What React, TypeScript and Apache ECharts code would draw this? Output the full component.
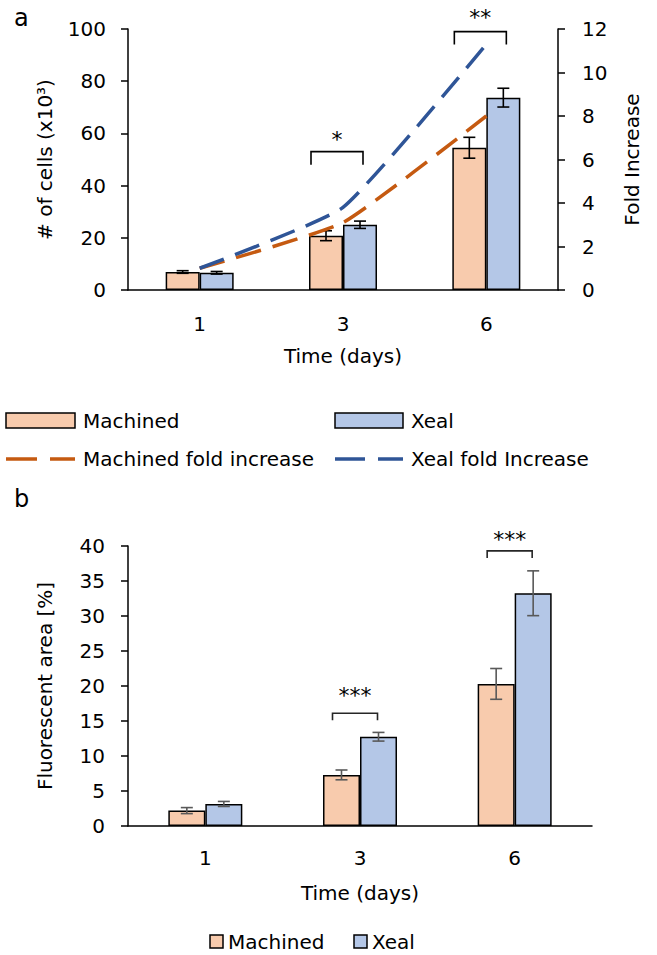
import React, { useEffect, useRef } from "react";
import * as echarts from "echarts";

// ---------- data ----------
const days = ["1", "3", "6"];

// panel a: number of cells (x10^3)
const cellsMachined = [6.9, 20.8, 54.5];
const cellsMachinedErr = [0.5, 1.9, 4.0];
const cellsXeal = [6.6, 25.0, 73.7];
const cellsXealErr = [0.5, 1.4, 3.6];
// fold increase (right axis)
const foldMachined = [1, 3.1, 8.0];
const foldXeal = [1, 3.8, 11.3];
// significance annotations (category index, bracket value, label value)
const sigTopCats = [1, 2];
const sigTopBracket = [53, 99];
const sigTopLabelY = [57.5, 104.5];
const sigTopLabels = ["*", "**"];

// panel b: fluorescent area [%]
const areaMachined = [2.2, 7.3, 20.3];
const areaMachinedErr = [0.43, 0.7, 2.2];
const areaXeal = [3.15, 12.75, 33.25];
const areaXealErr = [0.36, 0.62, 3.2];
const sigBotCats = [1, 2];
const sigBotBracket = [16.1, 39.3];
const sigBotLabelY = [18.7, 40.9];
const sigBotLabels = ["***", "***"];

// ---------- style ----------
const FONT = "DejaVu Sans";
const C_MACH = "#F8CBAD";
const C_XEAL = "#B4C7E7";
const C_MACH_LINE = "#C55A11";
const C_XEAL_LINE = "#2F5597";

function errorSeries(
  xAxisIndex: number,
  yAxisIndex: number,
  values: number[],
  errs: number[],
  side: number,
  halfBar: number,
  color: string,
  capHalf: number
) {
  return {
    type: "custom",
    xAxisIndex,
    yAxisIndex,
    silent: true,
    z: 6,
    clip: false,
    renderItem: (params: any, api: any) => {
      const cat = api.value(0);
      const v = api.value(1);
      const e = api.value(2);
      const hi = api.coord([cat, v + e]);
      const lo = api.coord([cat, v - e]);
      const x = hi[0] + side * halfBar;
      const st = { stroke: color, lineWidth: 1.6 };
      return {
        type: "group",
        children: [
          { type: "line", shape: { x1: x, y1: hi[1], x2: x, y2: lo[1] }, style: st },
          { type: "line", shape: { x1: x - capHalf, y1: hi[1], x2: x + capHalf, y2: hi[1] }, style: st },
          { type: "line", shape: { x1: x - capHalf, y1: lo[1], x2: x + capHalf, y2: lo[1] }, style: st },
        ],
      };
    },
    data: values.map((v, i) => [i, v, errs[i]]),
  };
}

function bracketSeries(
  xAxisIndex: number,
  yAxisIndex: number,
  cats: number[],
  bracketY: number[],
  labelY: number[],
  labels: string[],
  centerOffset: number,
  halfWidth: number,
  leg: number,
  color: string
) {
  return {
    type: "custom",
    xAxisIndex,
    yAxisIndex,
    silent: true,
    z: 7,
    clip: false,
    renderItem: (params: any, api: any) => {
      const top = api.coord([api.value(0), api.value(1)]);
      const lab = api.coord([api.value(0), api.value(2)]);
      const cx = top[0] + centerOffset;
      return {
        type: "group",
        children: [
          {
            type: "polyline",
            shape: {
              points: [
                [cx - halfWidth, top[1] + leg],
                [cx - halfWidth, top[1]],
                [cx + halfWidth, top[1]],
                [cx + halfWidth, top[1] + leg],
              ],
            },
            style: { stroke: color, lineWidth: 1.6, fill: "none" },
          },
          {
            type: "text",
            style: {
              text: labels[params.dataIndex],
              x: cx,
              y: lab[1],
              align: "center",
              verticalAlign: "middle",
              fontSize: 22,
              fontFamily: FONT,
              fill: "#000",
            },
          },
        ],
      };
    },
    data: cats.map((c, i) => [c, bracketY[i], labelY[i]]),
  };
}

const axisText = { fontSize: 20, fontFamily: FONT, color: "#000" };
const axisLine = { show: true, lineStyle: { color: "#000", width: 1.5 } };

export default function App() {
  const ref = useRef<HTMLDivElement>(null);

  useEffect(() => {
    if (!ref.current) return;
    const chart = echarts.init(ref.current, undefined, { renderer: "svg" });

    const option: any = {
      animation: false,
      backgroundColor: "#fff",
      textStyle: { fontFamily: FONT },
      grid: [
        { left: 128, top: 29, width: 430, height: 261, containLabel: false },
        { left: 128, top: 546, width: 464, height: 280, containLabel: false },
      ],
      xAxis: [
        {
          type: "category",
          gridIndex: 0,
          data: days,
          axisLine,
          axisTick: { show: false },
          axisLabel: { ...axisText, margin: 24 },
          name: "Time (days)",
          nameLocation: "middle",
          nameGap: 56,
          nameTextStyle: axisText,
        },
        {
          type: "category",
          gridIndex: 1,
          data: days,
          axisLine,
          axisTick: { show: false },
          axisLabel: { ...axisText, margin: 22 },
          name: "Time (days)",
          nameLocation: "middle",
          nameGap: 57,
          nameTextStyle: axisText,
        },
      ],
      yAxis: [
        {
          type: "value",
          gridIndex: 0,
          min: 0,
          max: 100,
          interval: 20,
          axisLine,
          axisTick: { show: true, inside: false, length: 7, lineStyle: { color: "#000", width: 1.5 } },
          splitLine: { show: false },
          axisLabel: { ...axisText, margin: 22 },
          name: "# of cells (x10³)",
          nameLocation: "middle",
          nameGap: 73,
          nameTextStyle: axisText,
        },
        {
          type: "value",
          gridIndex: 0,
          position: "right",
          min: 0,
          max: 12,
          interval: 2,
          axisLine,
          axisTick: { show: true, inside: false, length: 7, lineStyle: { color: "#000", width: 1.5 } },
          splitLine: { show: false },
          axisLabel: { ...axisText, margin: 24 },
          name: "Fold Increase",
          nameLocation: "middle",
          nameGap: 64,
          nameTextStyle: axisText,
        },
        {
          type: "value",
          gridIndex: 1,
          min: 0,
          max: 40,
          interval: 5,
          axisLine,
          axisTick: { show: true, inside: false, length: 7, lineStyle: { color: "#000", width: 1.5 } },
          splitLine: { show: false },
          axisLabel: { ...axisText, margin: 23 },
          name: "Fluorescent area [%]",
          nameLocation: "middle",
          nameGap: 73,
          nameTextStyle: axisText,
        },
      ],
      series: [
        {
          type: "bar",
          name: "Machined",
          xAxisIndex: 0,
          yAxisIndex: 0,
          data: cellsMachined,
          barWidth: 34,
          barGap: "0%",
          itemStyle: { color: C_MACH, borderColor: "#000", borderWidth: 1.5 },
          z: 2,
        },
        {
          type: "bar",
          name: "Xeal",
          xAxisIndex: 0,
          yAxisIndex: 0,
          data: cellsXeal,
          barWidth: 34,
          barGap: "0%",
          itemStyle: { color: C_XEAL, borderColor: "#000", borderWidth: 1.5 },
          z: 2,
        },
        errorSeries(0, 0, cellsMachined, cellsMachinedErr, -1, 17, "#000", 6),
        errorSeries(0, 0, cellsXeal, cellsXealErr, 1, 17, "#000", 6),
        {
          type: "line",
          name: "Machined fold increase",
          xAxisIndex: 0,
          yAxisIndex: 1,
          data: foldMachined,
          smooth: 0.15,
          symbol: "none",
          lineStyle: { color: C_MACH_LINE, width: 3.5, type: [26, 12] },
          z: 8,
        },
        {
          type: "line",
          name: "Xeal fold Increase",
          xAxisIndex: 0,
          yAxisIndex: 1,
          data: foldXeal,
          smooth: 0.15,
          symbol: "none",
          lineStyle: { color: C_XEAL_LINE, width: 3.5, type: [26, 12] },
          z: 9,
        },
        bracketSeries(0, 0, sigTopCats, sigTopBracket, sigTopLabelY, sigTopLabels, -6, 26, 13, "#000"),
        {
          type: "bar",
          name: "Machined area",
          xAxisIndex: 1,
          yAxisIndex: 2,
          data: areaMachined,
          barWidth: 37,
          barGap: "0%",
          itemStyle: { color: C_MACH, borderColor: "#000", borderWidth: 1.5 },
          z: 2,
        },
        {
          type: "bar",
          name: "Xeal area",
          xAxisIndex: 1,
          yAxisIndex: 2,
          data: areaXeal,
          barWidth: 37,
          barGap: "0%",
          itemStyle: { color: C_XEAL, borderColor: "#000", borderWidth: 1.5 },
          z: 2,
        },
        errorSeries(1, 2, areaMachined, areaMachinedErr, -1, 18.5, "#595959", 6),
        errorSeries(1, 2, areaXeal, areaXealErr, 1, 18.5, "#595959", 6),
        bracketSeries(1, 2, sigBotCats, sigBotBracket, sigBotLabelY, sigBotLabels, -5, 22.5, 7, "#262626"),
      ],
      graphic: [
        { type: "text", left: 14, top: 6, style: { text: "a", fontSize: 24, fontFamily: FONT, fill: "#000" } },
        { type: "text", left: 14, top: 487, style: { text: "b", fontSize: 24, fontFamily: FONT, fill: "#000" } },
        // legend panel a
        { type: "rect", shape: { x: 6, y: 413, width: 69, height: 15 }, style: { fill: C_MACH, stroke: "#000", lineWidth: 1.5 } },
        { type: "text", x: 83, y: 421, style: { text: "Machined", fontSize: 20, fontFamily: FONT, fill: "#000", verticalAlign: "middle" } },
        { type: "rect", shape: { x: 335, y: 413, width: 68, height: 15 }, style: { fill: C_XEAL, stroke: "#000", lineWidth: 1.5 } },
        { type: "text", x: 411, y: 421, style: { text: "Xeal", fontSize: 20, fontFamily: FONT, fill: "#000", verticalAlign: "middle" } },
        { type: "line", shape: { x1: 6, y1: 459, x2: 75, y2: 459 }, style: { stroke: C_MACH_LINE, lineWidth: 3.5, lineDash: [31, 13] } },
        { type: "text", x: 83, y: 459, style: { text: "Machined fold increase", fontSize: 20, fontFamily: FONT, fill: "#000", verticalAlign: "middle" } },
        { type: "line", shape: { x1: 335, y1: 459, x2: 403, y2: 459 }, style: { stroke: C_XEAL_LINE, lineWidth: 3.5, lineDash: [30, 13] } },
        { type: "text", x: 411, y: 459, style: { text: "Xeal fold Increase", fontSize: 20, fontFamily: FONT, fill: "#000", verticalAlign: "middle" } },
        // legend panel b
        { type: "rect", shape: { x: 210, y: 935, width: 13, height: 13 }, style: { fill: C_MACH, stroke: "#000", lineWidth: 1.5 } },
        { type: "text", x: 228, y: 942, style: { text: "Machined", fontSize: 20, fontFamily: FONT, fill: "#000", verticalAlign: "middle" } },
        { type: "rect", shape: { x: 354, y: 935, width: 13, height: 13 }, style: { fill: C_XEAL, stroke: "#000", lineWidth: 1.5 } },
        { type: "text", x: 372, y: 942, style: { text: "Xeal", fontSize: 20, fontFamily: FONT, fill: "#000", verticalAlign: "middle" } },
      ],
    };

    chart.setOption(option);
    return () => chart.dispose();
  }, []);

  return (
    <div
      ref={ref}
      style={{ position: "absolute", left: 0, top: 0, width: 657, height: 955, background: "#fff" }}
    />
  );
}
